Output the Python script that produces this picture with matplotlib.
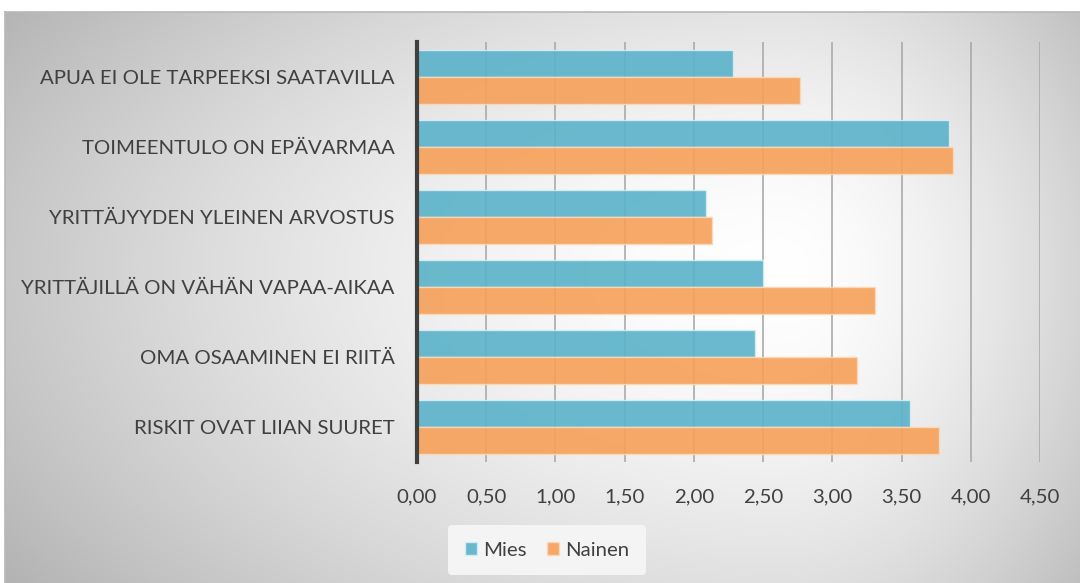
import numpy as np
import matplotlib.pyplot as plt

# Data
kategoriat = ['APUA EI OLE TARPEEKSI SAATAVILLA',
              'TOIMEENTULO ON EPÄVARMAA',
              'YRITTÄJYYDEN YLEINEN ARVOSTUS',
              'YRITTÄJILLÄ ON VÄHÄN VAPAA-AIKAA',
              'OMA OSAAMINEN EI RIITÄ',
              'RISKIT OVAT LIIAN SUURET']
mies = [2.28, 3.84, 2.09, 2.50, 2.44, 3.56]
nainen = [2.77, 3.87, 2.13, 3.31, 3.18, 3.77]
tikit = [0, 0.5, 1, 1.5, 2, 2.5, 3, 3.5, 4, 4.5]
tikki_tekstit = ['0,00', '0,50', '1,00', '1,50', '2,00', '2,50', '3,00', '3,50', '4,00', '4,50']

plt.rcParams['font.family'] = ['Lato', 'DejaVu Sans']
W, H = 1080, 583
fig = plt.figure(figsize=(W / 100, H / 100), dpi=100)

# Taustan säteittäinen liukuväri
bg = fig.add_axes([5 / W, 0, 1 - 5 / W, 1 - 12 / H])
bx = np.linspace(5, W, 600)
by = np.linspace(12, H, 320)
X, Y = np.meshgrid(bx, by)
cx, cy = 780, 270
sx = np.where(X < cx, 820, 380)
sy = np.where(Y < cy, 420, 480)
r = np.sqrt(((X - cx) / sx) ** 2 + ((Y - cy) / sy) ** 2)
v = 1 - 0.24 * np.clip(r, 0, 1.2) ** 1.6
bg.imshow(np.dstack([v, v, v]), extent=(0, 1, 0, 1), aspect='auto', origin='upper')
bg.set_xlim(0, 1)
bg.set_ylim(0, 1)
for s in ['right', 'bottom']:
    bg.spines[s].set_visible(False)
for s in ['top', 'left']:
    bg.spines[s].set_color('#b8b8b8')
    bg.spines[s].set_linewidth(1.2)
bg.set_xticks([])
bg.set_yticks([])

ax = fig.add_axes([417 / W, 1 - 462 / H, (1040 - 417) / W, (462 - 42) / H])
ax.patch.set_alpha(0)

n = len(kategoriat)
y = np.arange(n)[::-1]
h = 0.385
ax.barh(y + h / 2, mies, height=h, color='#5ab2c9', alpha=0.9,
        edgecolor='#d8eef3', linewidth=1, label='Mies', zorder=3)
ax.barh(y - h / 2, nainen, height=h, color='#f6a058', alpha=0.9,
        edgecolor='#fbd9bb', linewidth=1, label='Nainen', zorder=3)

ax.set_xlim(0, 4.5)
ax.set_ylim(-0.5, n - 0.5)
ax.set_xticks(tikit)
ax.set_xticklabels(tikki_tekstit)
ax.set_yticks(y)
ax.set_yticklabels(kategoriat)
ax.tick_params(axis='x', length=0, pad=19, labelsize=14.7, labelcolor='#404040')
ax.tick_params(axis='y', length=0, pad=16, labelsize=14.7, labelcolor='#404040')
ax.xaxis.grid(True, color='#aaaaaa', linewidth=1.2, zorder=1)
ax.set_axisbelow(True)
for s in ['top', 'right', 'bottom']:
    ax.spines[s].set_visible(False)
ax.spines['left'].set_color('#404040')
ax.spines['left'].set_linewidth(3)
ax.spines['left'].set_zorder(5)

leg = fig.legend(loc='center', bbox_to_anchor=(547 / W, 1 - 550 / H), ncol=2,
                 frameon=True, fontsize=14.7, handlelength=0.6, handleheight=0.6,
                 handletextpad=0.3, columnspacing=1.0, borderpad=0.8)
leg.get_frame().set_facecolor('#f4f4f4')
leg.get_frame().set_edgecolor('none')
leg.get_frame().set_alpha(1)
for t in leg.get_texts():
    t.set_color('#404040')

fig.savefig('out.png', dpi=100)
